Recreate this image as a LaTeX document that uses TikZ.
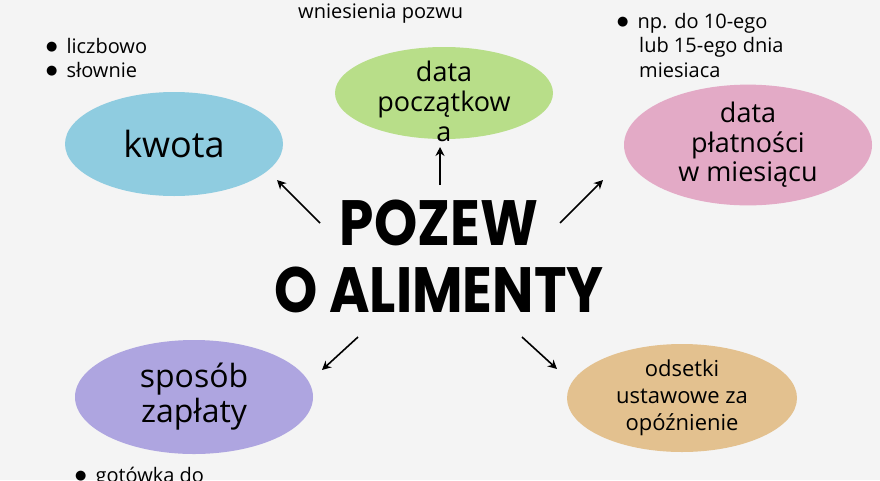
\documentclass[tikz,border=0pt]{standalone}
\usepackage{fontspec}
\usetikzlibrary{shapes.geometric,positioning,arrows.meta}
\setmainfont{Open Sans}
\newfontfamily\titlefont{Poppins}
\newfontfamily\dotfont{DejaVu Sans}

\definecolor{tlo}{HTML}{F4F4F4}
\definecolor{niebieski}{HTML}{8FCCE0}
\definecolor{zielony}{HTML}{B8DE89}
\definecolor{rozowy}{HTML}{E3AAC6}
\definecolor{fioletowy}{HTML}{AEA5E0}
\definecolor{piaskowy}{HTML}{E3C18F}

\newcommand{\kropka}{\raisebox{3pt}{\dotfont\fontsize{13}{13}\selectfont ●}\hspace{9pt}}

\begin{document}
\begin{tikzpicture}[
    x=1pt, y=-1pt,
    owal/.style={
        ellipse, inner sep=0pt,
        align=center,
        text=black
    },
    lista/.style={
        align=left, anchor=north west, inner sep=0pt,
        font=\fontsize{20}{24.5}\selectfont
    },
    tytul/.style={
        align=center,
        font={\titlefont\bfseries\fontsize{64}{67}\selectfont}
    },
    arrow/.style={->, line width=1.6pt, >={Stealth[length=9pt,width=9pt]}}
]

\useasboundingbox[fill=tlo] (0,0) rectangle (880,480);
\clip (0,0) rectangle (880,480);

% --- Srodek: tytul ---
\node[tytul] (pozew) at (439,256) {\scalebox{0.86}[1]{POZEW}\\\scalebox{0.86}[1]{O ALIMENTY}};

% --- Gorny rzad ---
\node[owal, fill=niebieski, minimum width=218pt, minimum height=104pt,
      font=\fontsize{36}{40}\selectfont] (kwota) at (174,144) {kwota};
\node[owal, fill=zielony, minimum width=218pt, minimum height=92pt] (poczatek) at (444,93) {};
\node[align=center, font=\fontsize{27}{30}\selectfont] (poczatektekst)
      at ([yshift=-8pt]poczatek.center) {data\\początkow\\a};
\node[owal, fill=rozowy, minimum width=248pt, minimum height=114pt,
      font=\fontsize{27}{29.5}\selectfont] (platnosc) at (748,145) {data\\płatności\\w miesiącu};

% --- Dolny rzad ---
\node[owal, fill=fioletowy, minimum width=238pt, minimum height=114pt,
      font=\fontsize{32}{35}\selectfont] (sposob) at (194,397) {sposób\\zapłaty};
\node[owal, fill=piaskowy, minimum width=230pt, minimum height=108pt,
      font=\fontsize{22}{27}\selectfont] (odsetki) at (682,398) {odsetki\\ustawowe za\\opóźnienie};

% --- Dopiski ---
\node[lista] (kwotaopis) at (46,38) {\kropka liczbowo\\\kropka słownie};
\node[lista] (platopis) at (617,13) {\kropka np. do 10-ego\\\hspace{22pt}lub 15-ego dnia\\\hspace{22pt}miesiaca};
\node[lista] (poczopis) at (298,4) {wniesienia pozwu};
\node[lista] (sposopis) at (75,467) {\kropka gotówka do};

% --- Strzalki ---
\coordinate (k1) at (320,223); \coordinate (k2) at (277,180);
\coordinate (p1) at (440,185); \coordinate (p2) at (440,147);
\coordinate (d1) at (560,223); \coordinate (d2) at (603,180);
\coordinate (s1) at (358,337); \coordinate (s2) at (322,370);
\coordinate (o1) at (522,337); \coordinate (o2) at (557,369);

\draw[arrow] (k1) -- (k2);
\draw[arrow] (p1) -- (p2);
\draw[arrow] (d1) -- (d2);
\draw[arrow] (s1) -- (s2);
\draw[arrow] (o1) -- (o2);

\end{tikzpicture}
\end{document}
